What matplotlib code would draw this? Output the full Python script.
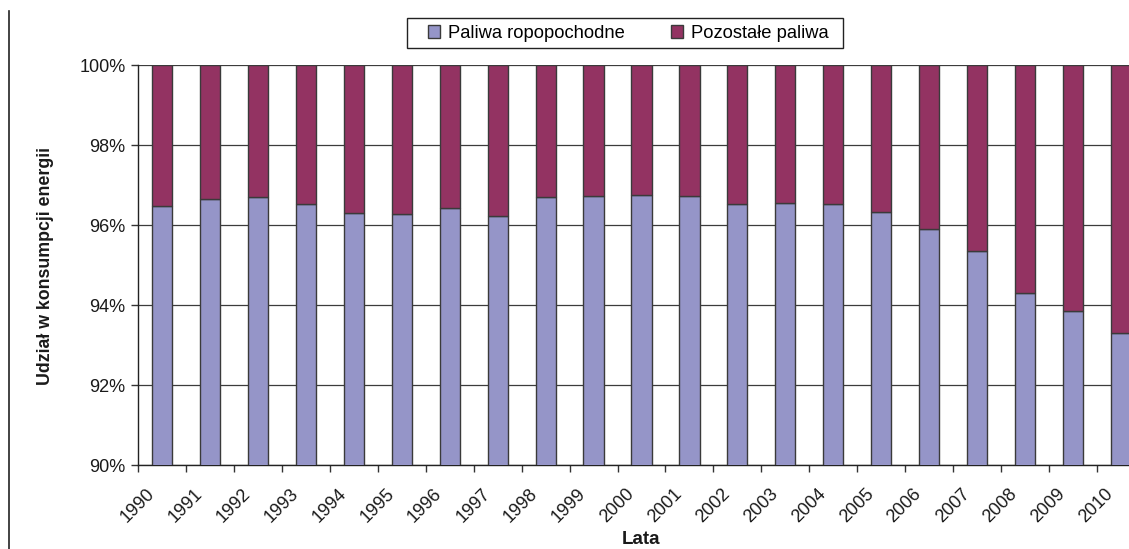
import matplotlib
matplotlib.use("Agg")
import matplotlib.pyplot as plt
from matplotlib.lines import Line2D
from matplotlib.patches import Rectangle
from matplotlib.ticker import FuncFormatter
import numpy as np

plt.rcParams['font.family'] = ['Liberation Sans', 'DejaVu Sans']

years = [str(y) for y in range(1990, 2011)]
ropopochodne = [96.47, 96.64, 96.70, 96.53, 96.31, 96.27, 96.43, 96.22, 96.69, 96.72,
                96.75, 96.72, 96.53, 96.55, 96.53, 96.33, 95.91, 95.36, 94.29, 93.84, 93.30]
pozostale = [100 - v for v in ropopochodne]

series_names = ["Paliwa ropopochodne", "Pozostałe paliwa"]
c_blue = "#9595c8"
c_purple = "#933362"
edge = "#3a3a3a"

W, H = 1129, 549
fig = plt.figure(figsize=(W / 100, H / 100), dpi=100)
ax = fig.add_axes([138 / W, 84 / H, 1007 / W, 400 / H])

x = np.arange(len(years)) + 0.5
w = 0.42
ax.bar(x, ropopochodne, width=w, color=c_blue, edgecolor=edge, linewidth=1.0, zorder=3,
       label=series_names[0])
ax.bar(x, pozostale, width=w, bottom=ropopochodne, color=c_purple, edgecolor=edge,
       linewidth=1.0, zorder=3, label=series_names[1])

ax.set_xlim(0, len(years))
ax.set_ylim(90, 100)
ax.set_yticks(np.arange(90, 100.1, 2))
ax.yaxis.set_major_formatter(FuncFormatter(lambda v, p: f"{v:.0f}%"))
ax.grid(axis='y', color='#3c3c3c', linewidth=0.9, zorder=0)
ax.set_axisbelow(True)

# category boundary tick marks
ax.set_xticks(np.arange(0, len(years) + 1), minor=True)
ax.tick_params(axis='x', which='minor', length=5, width=1, color='#333333', direction='out')
ax.set_xticks(x - 0.34)
ax.set_xticklabels(years, rotation=45, ha='right', va='top', rotation_mode='anchor',
                   fontsize=13, color='#1a1a1a')
ax.tick_params(axis='x', which='major', length=0, pad=14.5)
ax.tick_params(axis='y', length=5, width=1, color='#333333', labelsize=13,
               labelcolor='#1a1a1a', pad=4)

for s in ['top', 'right']:
    ax.spines[s].set_visible(False)
for s in ['left', 'bottom']:
    ax.spines[s].set_color('#222222')
    ax.spines[s].set_linewidth(1.0)

fig.text(46 / W, 1 - 266 / H, "Udział w konsumpcji energii", rotation=90,
         ha='center', va='center', fontsize=12.8, fontweight='bold', color='#1a1a1a')
fig.text(641 / W, 1 - 540 / H, "Lata", ha='center', va='center',
         fontsize=13.5, fontweight='bold', color='#1a1a1a')

# legend entries without frame, boxed by a plain rectangle
leg = fig.legend(loc='center', bbox_to_anchor=(628 / W, 1 - 33 / H), ncol=2,
                 frameon=False, fontsize=13.2, handlelength=0.7,
                 handleheight=0.7, handletextpad=0.4, columnspacing=2.5,
                 borderpad=0, borderaxespad=0)
fig.add_artist(Rectangle((407 / W, 1 - 48 / H), 436 / W, 30 / H, transform=fig.transFigure,
                         facecolor='none', edgecolor='#222222', linewidth=1.0))

fig.add_artist(Line2D([9 / W, 9 / W], [0, 1 - 11 / H], color='#222222',
                      linewidth=1.2, transform=fig.transFigure))

fig.savefig("out.png", dpi=100, facecolor='white')
